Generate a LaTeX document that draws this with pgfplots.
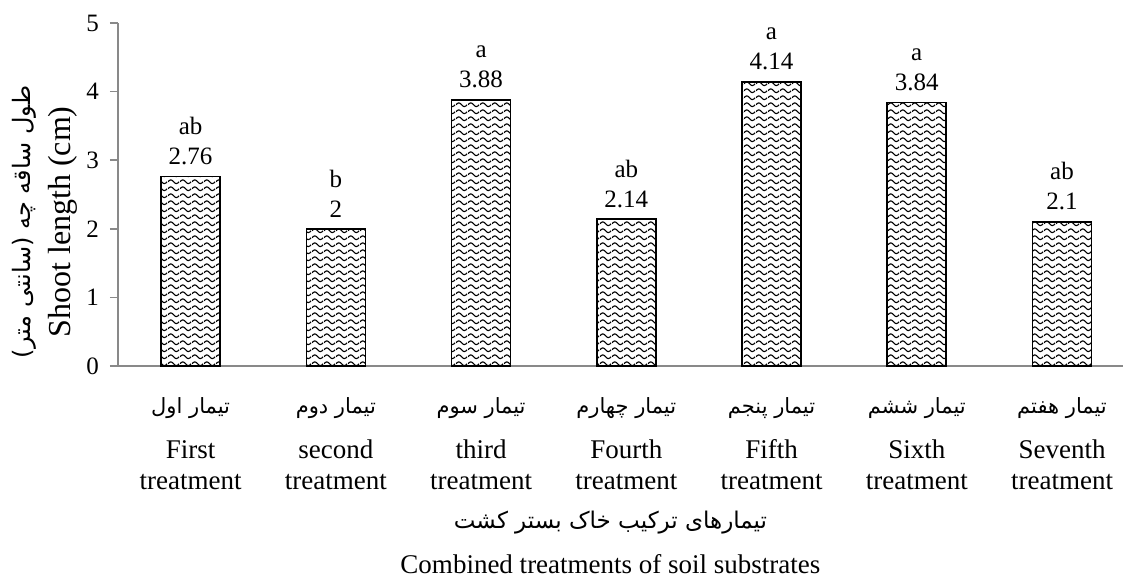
\documentclass[border=0pt]{standalone}
\usepackage{fontspec}
\setmainfont{Liberation Serif}
\newfontfamily\arabicfont[Script=Arabic]{DejaVu Sans}
\TeXXeTstate=1
\usepackage{pgfplots}
\pgfplotsset{compat=1.18}
\usetikzlibrary{patterns}
\pgfdeclarepatternformonly{waves}{\pgfqpoint{0pt}{0pt}}{\pgfqpoint{6pt}{3.6pt}}{\pgfqpoint{6pt}{3.6pt}}{%
  \pgfsetlinewidth{0.6pt}%
  \pgfpathmoveto{\pgfqpoint{0pt}{1.8pt}}%
  \pgfpathsine{\pgfqpoint{1.5pt}{1.05pt}}%
  \pgfpathcosine{\pgfqpoint{1.5pt}{-1.05pt}}%
  \pgfpathsine{\pgfqpoint{1.5pt}{-1.05pt}}%
  \pgfpathcosine{\pgfqpoint{1.5pt}{1.05pt}}%
  \pgfusepath{stroke}%
}
\definecolor{axisgray}{HTML}{898989}
\newcommand{\tf}{\arabicfont\fontsize{10.5}{13}\selectfont}
\begin{document}
\begin{tikzpicture}
\useasboundingbox (0,0) rectangle (561.5pt,291.5pt);
\begin{axis}[
  at={(59pt,108.5pt)}, anchor=south west,
  scale only axis, width=502.5pt, height=171.5pt,
  xmin=-0.5, xmax=6.42, ymin=0, ymax=5,
  axis x line=bottom, axis y line=left,
  axis line style={axisgray, line width=0.75pt, -},
  ytick={0,1,2,3,4,5},
  xtick={0,1,2,3,4,5,6},
  xtick style={draw=none},
  ytick style={axisgray, line width=0.75pt},
  tick align=outside,
  major tick length=4pt,
  yticklabel style={font=\fontsize{12.5}{14}\selectfont, xshift=-2pt},
  /pgf/number format/assume math mode=true,
  xticklabels={
    {{\tf\hbox{\beginR تیمار اول\endR}}\\[7pt]First\\treatment},
    {{\tf\hbox{\beginR تیمار دوم\endR}}\\[7pt]second\\treatment},
    {{\tf\hbox{\beginR تیمار سوم\endR}}\\[7pt]third\\treatment},
    {{\tf\hbox{\beginR تیمار چهارم\endR}}\\[7pt]Fourth\\treatment},
    {{\tf\hbox{\beginR تیمار پنجم\endR}}\\[7pt]Fifth\\treatment},
    {{\tf\hbox{\beginR تیمار ششم\endR}}\\[7pt]Sixth\\treatment},
    {{\tf\hbox{\beginR تیمار هفتم\endR}}\\[7pt]Seventh\\treatment}},
  xticklabel style={align=center, anchor=north, font=\fontsize{13.5}{15.5}\selectfont, yshift=-8pt},
  xlabel={{\arabicfont\fontsize{11.5}{13}\selectfont\hbox{\beginR تیمارهای ترکیب خاک بستر کشت\endR}}\\[7pt]Combined treatments of soil substrates},
  xlabel style={at={(rel axis cs:0.49,0)}, anchor=north, yshift=-69pt, align=center, font=\fontsize{13.5}{15.5}\selectfont},
  ylabel={{\arabicfont\fontsize{12}{13}\selectfont\hbox{\beginR طول ساقه چه (سانتی متر)\endR}}\\[3pt]Shoot length (cm)},
  ylabel style={at={([xshift=-17pt]rel axis cs:0,0.42)}, anchor=south, align=center, font=\fontsize{16}{17}\selectfont},
  clip=false,
]
\addplot[ybar, bar width=29.5pt, draw=black, line width=0.8pt, pattern=waves,
  point meta=explicit symbolic,
  nodes near coords={\pgfplotspointmeta\\\pgfmathprintnumber[fixed,precision=2]{\pgfkeysvalueof{/data point/y}}},
  nodes near coords style={align=center, anchor=south, inner sep=0pt, yshift=5.5pt, font=\fontsize{12.5}{15}\selectfont, /pgf/number format/assume math mode=true}
] coordinates {
  (0,2.76) [ab]
  (1,2) [b]
  (2,3.88) [a]
  (3,2.14) [ab]
  (4,4.14) [a]
  (5,3.84) [a]
  (6,2.1) [ab]
};
\end{axis}
\end{tikzpicture}
\end{document}
